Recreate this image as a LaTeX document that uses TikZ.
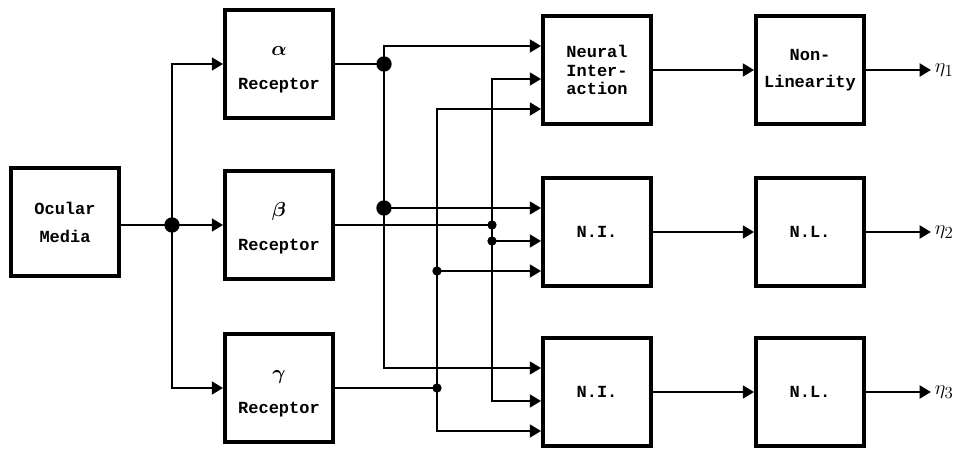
\documentclass[tikz,border=0pt]{standalone}
\usepackage{amsmath}
\usepackage{fontspec}
\setmonofont{Liberation Mono}
\usetikzlibrary{arrows.meta,calc}

\newcommand{\greekline}[1]{\rule{0pt}{18pt}\fontsize{17}{19}\selectfont$\boldsymbol{#1}$}

\begin{document}
\begin{tikzpicture}[
  x=0.03cm,
  y=-0.03cm,
  every node/.style={
    font=\ttfamily\bfseries\fontsize{14.5}{16}\selectfont
  },
  block/.style={
    draw,
    rectangle,
    line width=3.2pt,
    minimum width=3.24cm,
    minimum height=3.24cm,
    inner sep=1pt,
    align=center
  },
  wire/.style={
    -{Triangle[length=3.4mm,width=3.8mm]},
    line width=2.4pt
  },
  plain/.style={
    line width=2.4pt
  },
  bigdot/.style={
    circle,
    fill,
    inner sep=0pt,
    minimum size=4.6mm
  },
  smalldot/.style={
    circle,
    fill,
    inner sep=0pt,
    minimum size=2.8mm
  },
  outlabel/.style={
    inner sep=3pt,
    anchor=west,
    font=\fontsize{19}{21}\selectfont
  }
]

\useasboundingbox (0,0) rectangle (964,452);

% Input stage
\node[block] (ocular) at (65,222)  {Ocular\\[8pt]Media};
\node[block] (alpha)  at (279,64)  {\greekline{\alpha}\\[13pt]Receptor};
\node[block] (beta)   at (279,225) {\greekline{\beta}\\[13pt]Receptor};
\node[block] (gamma)  at (279,388) {\greekline{\gamma}\\[13pt]Receptor};

% Neural interaction stage
\node[block] (ni1) at (597,70)  {Neural\\Inter-\\action};
\node[block] (ni2) at (597,232) {N.I.};
\node[block] (ni3) at (597,392) {N.I.};

% Non-linearity stage
\node[block] (nl1) at (810,70)  {Non-\\[7pt]Linearity};
\node[block] (nl2) at (810,232) {N.L.};
\node[block] (nl3) at (810,392) {N.L.};

% Outputs
\node[outlabel] (eta1) at (931,70)  {$\eta_{1}$};
\node[outlabel] (eta2) at (931,232) {$\eta_{2}$};
\node[outlabel] (eta3) at (931,392) {$\eta_{3}$};

% Input points on the N.I. blocks
\foreach \n in {ni1,ni2,ni3} {
  \coordinate (\n a) at ($(\n.west)+(0,-24)$);
  \coordinate (\n b) at ($(\n.west)+(0,9)$);
  \coordinate (\n c) at ($(\n.west)+(0,39)$);
}

% Branch points
\coordinate (jin) at (172,225);
\coordinate (ja)  at (384,64);
\coordinate (ja2) at (ja |- ni2a);
\coordinate (jb)  at (492,225);
\coordinate (jb2) at (jb |- ni2b);
\coordinate (jc)  at (437,388);
\coordinate (jc2) at (jc |- ni2c);

% Ocular media to receptors
\draw[plain] (ocular.east |- jin) -- (jin);
\draw[wire] (jin) |- (alpha);
\draw[wire] (jin) -- (beta);
\draw[wire] (jin) |- (gamma);

% Alpha channel
\draw[plain] (alpha) -- (ja);
\draw[wire] (ja) |- (ni1a);
\draw[wire] (ja) |- (ni3a);
\draw[wire] (ja2) -- (ni2a);

% Beta channel
\draw[plain] (beta) -- (jb);
\draw[wire] (jb) |- (ni1b);
\draw[wire] (jb) |- (ni3b);
\draw[wire] (jb2) -- (ni2b);

% Gamma channel
\draw[plain] (gamma) -- (jc);
\draw[wire] (jc) |- (ni1c);
\draw[wire] (jc) |- (ni3c);
\draw[wire] (jc2) -- (ni2c);

% N.I. to N.L. to outputs
\draw[wire] (ni1) -- (nl1);
\draw[wire] (ni2) -- (nl2);
\draw[wire] (ni3) -- (nl3);
\draw[wire] (nl1) -- (eta1);
\draw[wire] (nl2) -- (eta2);
\draw[wire] (nl3) -- (eta3);

% Junction dots
\node[bigdot]   (djin) at (jin) {};
\node[bigdot]   (dja)  at (ja)  {};
\node[bigdot]   (dja2) at (ja2) {};
\node[smalldot] (djb)  at (jb)  {};
\node[smalldot] (djb2) at (jb2) {};
\node[smalldot] (djc)  at (jc)  {};
\node[smalldot] (djc2) at (jc2) {};

\end{tikzpicture}
\end{document}
